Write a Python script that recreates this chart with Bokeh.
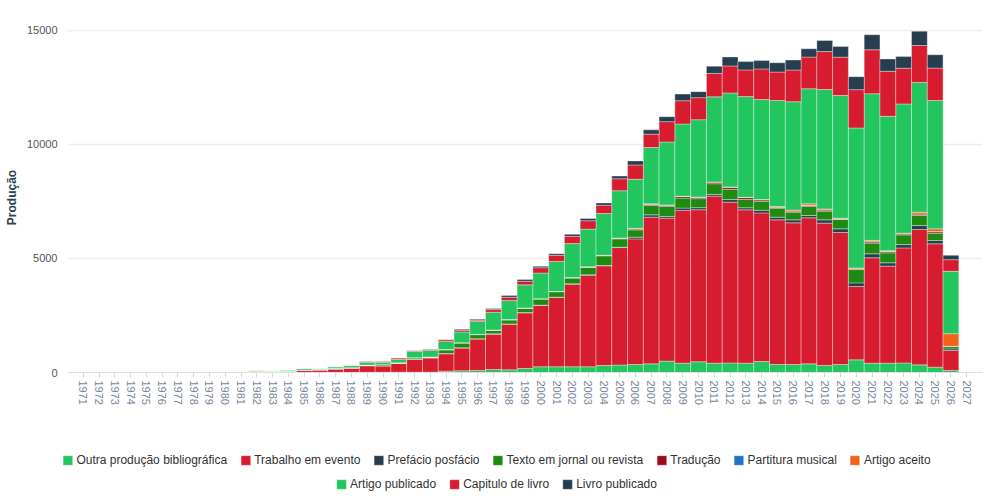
from bokeh.plotting import figure
from bokeh.models import FactorRange, Range1d, Legend, LegendItem, FixedTicker, BasicTickFormatter
from bokeh.embed import file_html
from bokeh.resources import INLINE

years = [str(y) for y in range(1971, 2028)]

outra = [0,0,0,0,0,0,0,0,0,0,
         5,5,5,5,5,5,5,5,10,10,
         15,15,15,60,75,90,130,117,175,250,
         250,250,250,307,330,350,380,500,410,470,
         410,420,410,480,350,350,380,310,350,555,
         410,410,420,335,235,90,5]
trabalho = [0,0,0,0,8,0,3,3,3,3,
            5,40,35,40,110,100,140,190,290,280,
            380,555,630,760,1000,1380,1550,2000,2440,2690,
            3040,3625,4020,4370,5150,5510,6433,6270,6700,6670,
            7325,7050,6725,6520,6345,6215,6405,6240,5790,3215,
            4620,4255,5045,5935,5410,875,5]
prefacio = [0,0,0,0,0,0,0,0,0,0,
            0,0,0,0,0,0,0,0,0,0,
            0,0,0,10,10,10,15,15,15,15,
            15,15,15,15,15,75,100,75,100,90,
            75,115,90,115,115,130,100,145,160,160,
            175,145,145,175,145,70,0]
texto = [0,0,0,0,0,0,0,0,0,0,
         0,0,10,10,0,25,45,15,30,55,
         30,75,30,165,210,180,160,176,190,265,
         235,250,320,425,365,320,410,440,440,395,
         470,450,365,395,395,335,400,380,410,585,
         470,440,425,440,320,100,0]
traducao = [0,0,0,0,0,0,0,0,0,0,
            0,0,0,0,0,0,0,0,0,0,
            0,5,5,10,10,10,10,10,10,15,
            15,20,20,25,30,40,60,55,70,65,
            70,90,80,65,40,50,40,55,25,35,
            55,60,45,65,65,10,0]
partitura = [0,0,0,0,0,0,0,0,0,0,
             0,0,0,0,0,0,0,0,0,0,
             0,0,0,0,2,2,2,2,3,3,
             3,3,15,3,3,5,5,5,5,3,
             5,5,5,5,5,5,5,5,5,5,
             5,5,5,5,5,3,0]
aceito = [0,0,0,0,0,0,0,0,0,0,
          0,0,0,0,0,0,0,0,0,0,
          0,0,0,0,0,0,0,0,0,0,
          0,0,0,0,5,25,10,5,5,5,
          5,10,10,5,30,40,70,40,30,30,
          60,30,25,75,120,555,0]
artigo = [3,2,3,3,2,5,12,12,12,12,
          25,25,25,50,55,40,60,90,115,100,
          145,275,290,365,470,570,775,833,1010,1125,
          1315,1490,1650,1825,2075,2150,2470,2760,3170,3390,
          3730,4120,4415,4385,4650,4750,5045,5235,5380,6140,
          6430,5890,5670,5690,5630,2735,15]
capitulo = [0,0,0,0,0,0,0,0,0,0,
            0,15,5,5,10,10,15,15,45,45,
            70,30,30,70,75,45,117,146,160,235,
            265,320,365,365,525,630,585,890,1020,965,
            1025,1185,1170,1345,1245,1390,1390,1665,1680,1680,
            1930,1975,1565,1620,1420,510,0]
livro = [0,0,0,0,0,0,0,0,0,0,
         0,0,0,0,0,0,0,0,0,0,
         0,15,15,10,45,45,44,73,73,58,
         73,88,100,100,117,175,190,220,290,265,
         320,395,365,365,410,440,365,485,465,570,
         660,540,510,630,585,190,0]

series_names = ["Outra produção bibliográfica", "Trabalho em evento", "Prefácio posfácio",
                "Texto em jornal ou revista", "Tradução", "Partitura musical", "Artigo aceito",
                "Artigo publicado", "Capitulo de livro", "Livro publicado"]
series_values = [outra, trabalho, prefacio, texto, traducao, partitura, aceito,
                 artigo, capitulo, livro]
colors = ["#22c55e", "#d61c2e", "#263e4f", "#1e8a12", "#9b0d1c", "#1f74c8", "#f26419",
          "#22c55e", "#d61c2e", "#263e4f"]
y_ticks = [0, 5000, 10000, 15000]

keys = ["s%d" % i for i in range(len(series_names))]
data = {"year": years}
for k, v in zip(keys, series_values):
    data[k] = v

bar_style = dict(width=1.0, color=colors, line_color="white", line_alpha=0.35, line_width=1)

p = figure(x_range=FactorRange(factors=years, range_padding=1/57, range_padding_units="percent"),
           y_range=Range1d(0, 15350),
           width=984, height=410,
           output_backend="svg", toolbar_location=None,
           min_border_left=67, min_border_top=22, min_border_right=2, min_border_bottom=38)

rs = p.vbar_stack(keys, x="year", source=data, **bar_style)

p.outline_line_color = None
p.background_fill_color = "white"
p.xgrid.grid_line_color = None
p.ygrid.grid_line_color = "#eeeeee"
p.ygrid.grid_line_width = 1.7

p.yaxis.ticker = FixedTicker(ticks=y_ticks)
p.yaxis.formatter = BasicTickFormatter(use_scientific=False)
p.yaxis.axis_line_color = None
p.yaxis.major_tick_line_color = None
p.yaxis.major_tick_out = 0
p.yaxis.major_tick_in = 0
p.yaxis.minor_tick_line_color = None
p.yaxis.major_label_text_font = "Liberation Sans"
p.yaxis.major_label_text_font_size = "11px"
p.yaxis.major_label_text_color = "#555555"
p.yaxis.major_label_standoff = 10
p.yaxis.axis_label = "Produção"
p.yaxis.axis_label_text_font = "Liberation Sans"
p.yaxis.axis_label_text_font_size = "12px"
p.yaxis.axis_label_text_font_style = "bold"
p.yaxis.axis_label_text_color = "#2c3e50"
p.yaxis.axis_label_standoff = 5

p.xaxis.axis_line_color = "#e0e0e0"
p.xaxis.axis_line_width = 1
p.xaxis.major_tick_line_color = "#d8d8d8"
p.xaxis.major_tick_out = 5
p.xaxis.major_tick_in = 0
p.xaxis.minor_tick_line_color = None
p.xaxis.major_label_orientation = "vertical"
p.xaxis.major_label_text_font = "Liberation Sans"
p.xaxis.major_label_text_font_size = "11px"
p.xaxis.major_label_text_color = "#7a869a"
p.xaxis.major_label_standoff = 3

# legend strip: same series, bars kept outside the visible y range
q = figure(x_range=FactorRange(factors=years), y_range=Range1d(1e6, 2e6),
           width=992, height=84, output_backend="svg", toolbar_location=None,
           x_axis_type=None, y_axis_type=None,
           min_border_left=0, min_border_right=0, min_border_top=0, min_border_bottom=0)
q.outline_line_color = None
rq = q.vbar_stack(keys, x="year", source=data, **bar_style)

def make_legend(idx, top):
    items = [LegendItem(label=series_names[i], renderers=[rq[i]]) for i in idx]
    return Legend(items=items, orientation="horizontal", location="top_center",
                  border_line_color=None, background_fill_alpha=0,
                  label_text_font="Liberation Sans", label_text_font_size="12px",
                  label_text_color="#333333", glyph_width=12, glyph_height=12,
                  label_height=12, label_standoff=3, spacing=12, padding=0,
                  margin=top)

q.add_layout(make_legend(list(range(7)), 43), "center")
q.add_layout(make_legend([7, 8, 9], 67), "center")

open("out.html", "w").write(file_html([p, q], INLINE))
